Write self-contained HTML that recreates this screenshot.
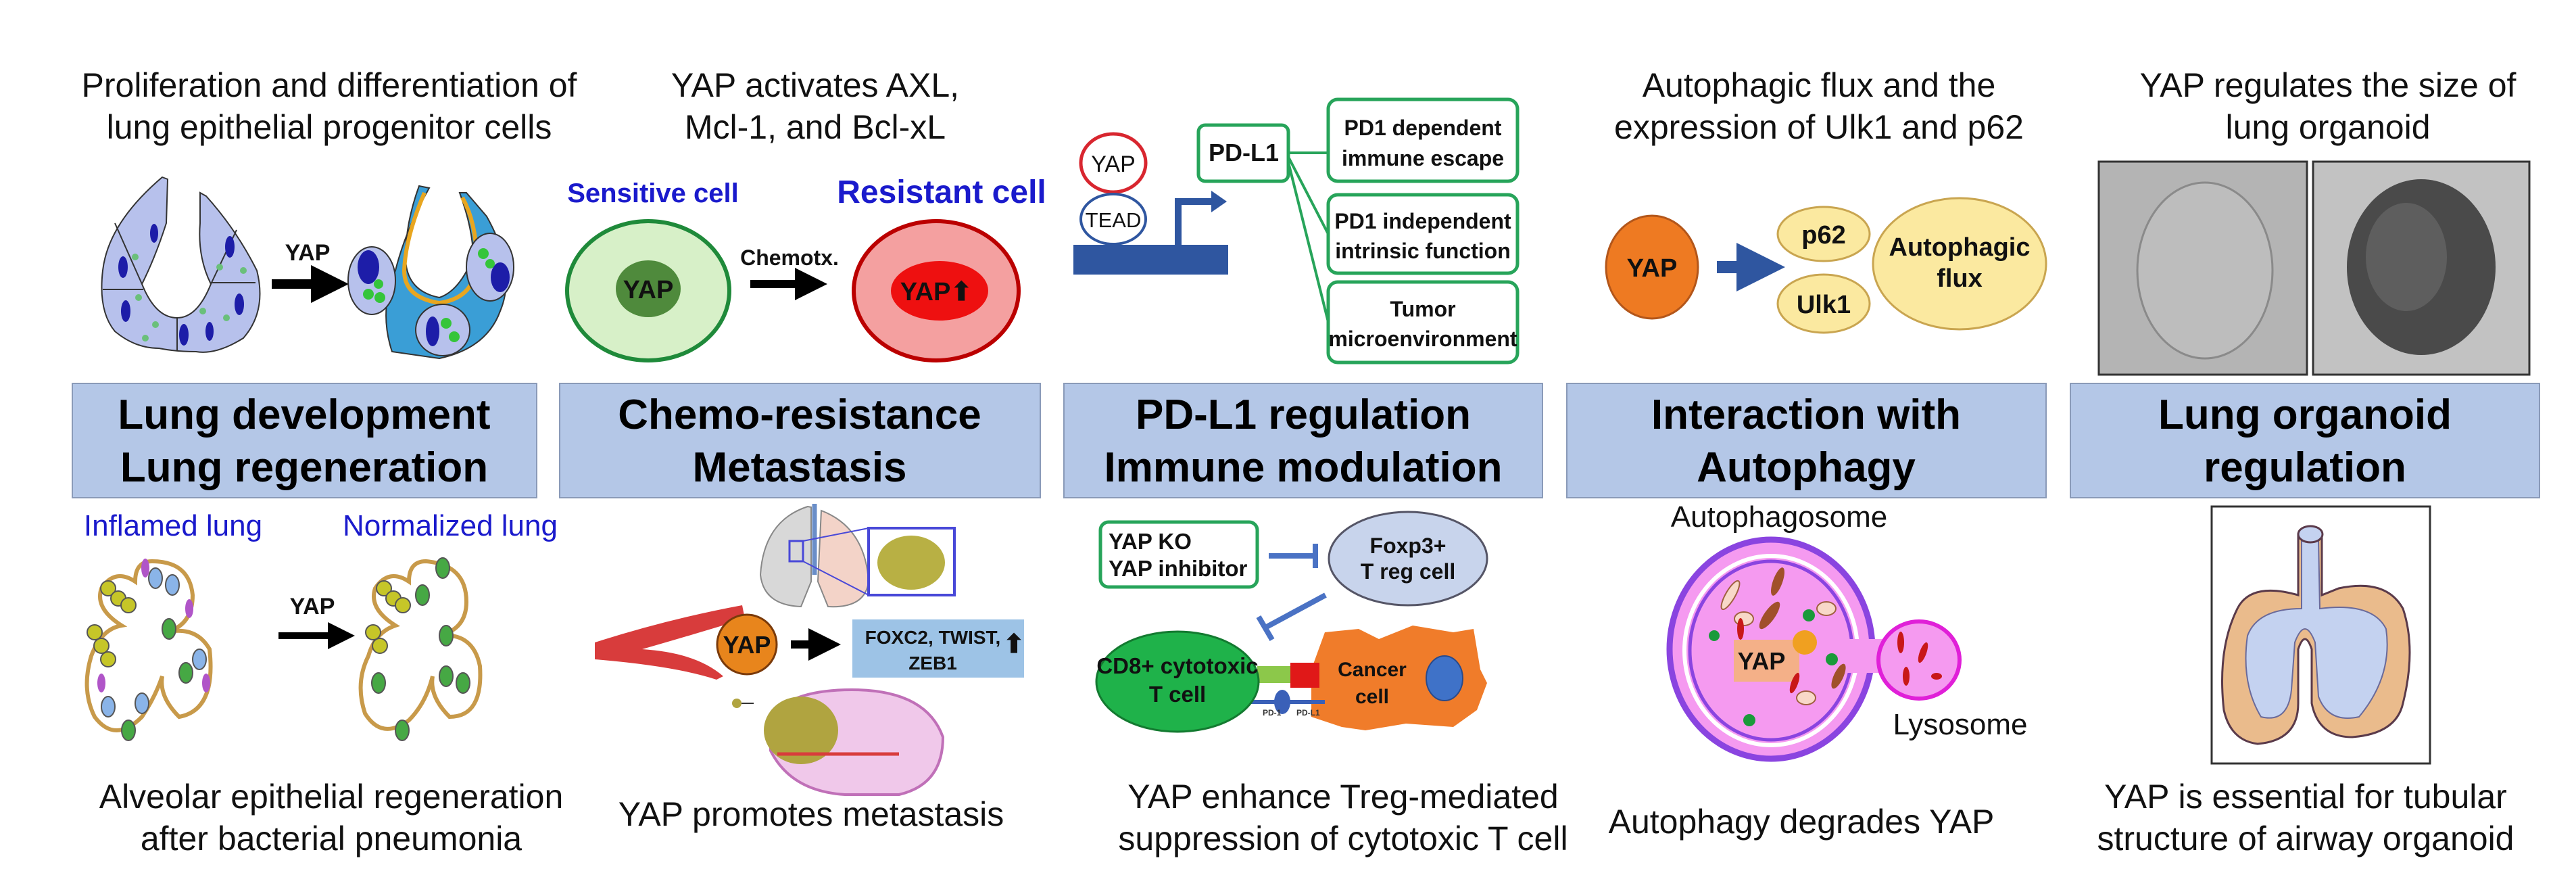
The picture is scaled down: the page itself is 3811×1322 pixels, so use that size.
<!DOCTYPE html>
<html><head><meta charset="utf-8"><style>
html,body{margin:0;padding:0;background:#fff}
svg{display:block}
text{font-family:"Liberation Sans",Arial,sans-serif}
</style></head><body>
<svg width="3811" height="1322" viewBox="0 0 3811 1322" xmlns="http://www.w3.org/2000/svg">
<defs>
<marker id="ah" markerWidth="4" markerHeight="4" refX="2" refY="2" orient="auto"><path d="M0,0 L4,2 L0,4 z" fill="#000"/></marker>
<marker id="ahb" markerWidth="4" markerHeight="4" refX="2" refY="2" orient="auto"><path d="M0,0 L4,2 L0,4 z" fill="#2f56a0"/></marker>
</defs>

<!-- Top texts -->
<g font-size="50" fill="#111" text-anchor="middle">
<text x="487" y="143">Proliferation and differentiation of</text>
<text x="487" y="205">lung epithelial progenitor cells</text>
<text x="1206" y="143">YAP activates AXL,</text>
<text x="1206" y="205">Mcl-1, and Bcl-xL</text>
<text x="2691" y="143">Autophagic flux and the</text>
<text x="2691" y="205">expression of Ulk1 and p62</text>
<text x="3444" y="143">YAP regulates the size of</text>
<text x="3444" y="205">lung organoid</text>
</g>

<!-- Panel 1 top: lung bud -->
<g stroke="#333" stroke-width="2">
<path d="M240,262 L248,265 L246,330 Q230,380 210,420 Q230,470 262,470 Q292,470 312,420 Q292,380 296,330 L296,285 L305,290 Q350,340 380,400 Q395,460 360,500 Q320,525 290,520 Q260,520 235,515 Q200,515 170,490 Q145,460 152,400 Q160,330 240,262 Z" fill="#b7c1ec"/>
<path d="M152,428 L212,428 M312,418 L378,418 M262,470 L262,518 M210,420 L170,330 M312,420 L350,340" fill="none"/>
</g>
<g fill="#1d1da8"><ellipse cx="182" cy="395" rx="7" ry="16"/><ellipse cx="186" cy="460" rx="7" ry="16"/><ellipse cx="272" cy="495" rx="7" ry="16"/><ellipse cx="340" cy="365" rx="7" ry="16"/><ellipse cx="354" cy="450" rx="7" ry="16"/><ellipse cx="228" cy="345" rx="6" ry="14"/><ellipse cx="310" cy="490" rx="6" ry="14"/></g>
<g fill="#6ac07a"><circle cx="200" cy="380" r="5"/><circle cx="205" cy="440" r="5"/><circle cx="230" cy="480" r="5"/><circle cx="325" cy="395" r="5"/><circle cx="335" cy="470" r="5"/><circle cx="300" cy="460" r="5"/><circle cx="215" cy="500" r="5"/><circle cx="360" cy="400" r="5"/></g>
<text x="455" y="385" font-size="34" font-weight="bold" text-anchor="middle" fill="#111">YAP</text>
<line x1="402" y1="420" x2="488" y2="420" stroke="#000" stroke-width="14" marker-end="url(#ah)"/>
<g stroke="#333" stroke-width="2">
<path d="M620,275 L635,278 Q600,340 585,400 Q560,460 580,520 L650,530 Q720,515 740,460 Q765,400 720,320 L690,285 L680,285 Q700,340 700,380 Q680,430 650,440 Q600,430 600,380 Q600,330 620,275 Z" fill="#3a9ed6"/>
<path d="M628,285 Q600,350 598,400 Q598,440 650,448 Q705,440 705,385 Q705,330 684,292" fill="none" stroke="#e8a620" stroke-width="6"/>
<ellipse cx="550" cy="415" rx="35" ry="50" fill="#b7c1ec"/>
<ellipse cx="725" cy="395" rx="35" ry="50" fill="#b7c1ec"/>
<ellipse cx="655" cy="488" rx="40" ry="38" fill="#b7c1ec"/>
</g>
<g fill="#1d1da8"><ellipse cx="545" cy="395" rx="16" ry="25"/><ellipse cx="740" cy="410" rx="14" ry="22"/><ellipse cx="640" cy="490" rx="10" ry="22"/></g>
<g fill="#35c53a"><circle cx="545" cy="435" r="8"/><circle cx="562" cy="440" r="8"/><circle cx="560" cy="420" r="7"/><circle cx="715" cy="375" r="8"/><circle cx="725" cy="390" r="7"/><circle cx="660" cy="478" r="8"/><circle cx="672" cy="498" r="8"/></g>

<!-- Panel 2 top: cells -->
<text x="966" y="299" font-size="40" font-weight="bold" fill="#1a1acc" text-anchor="middle">Sensitive cell</text>
<text x="1393" y="300" font-size="48" font-weight="bold" fill="#1a1acc" text-anchor="middle">Resistant cell</text>
<ellipse cx="959" cy="430" rx="120" ry="103" fill="#d7f0c8" stroke="#1f8a3a" stroke-width="6"/>
<ellipse cx="959" cy="427" rx="48" ry="42" fill="#4f8a3c"/>
<text x="959" y="441" font-size="38" font-weight="bold" text-anchor="middle" fill="#111">YAP</text>
<text x="1168" y="392" font-size="32" font-weight="bold" text-anchor="middle" fill="#111">Chemotx.</text>
<line x1="1110" y1="420" x2="1200" y2="420" stroke="#000" stroke-width="12" marker-end="url(#ah)"/>
<ellipse cx="1385" cy="430" rx="122" ry="103" fill="#f4a0a0" stroke="#b00" stroke-width="6"/>
<ellipse cx="1390" cy="430" rx="72" ry="44" fill="#ee1010"/>
<text x="1385" y="444" font-size="38" font-weight="bold" text-anchor="middle" fill="#111">YAP⬆</text>

<!-- Panel 3 top -->
<rect x="1588" y="362" width="229" height="44" fill="#2f56a0"/>
<path d="M1743,362 L1743,298 L1795,298" fill="none" stroke="#2f56a0" stroke-width="10"/>
<path d="M1792,282 L1815,298 L1792,314 Z" fill="#2f56a0"/>
<ellipse cx="1647" cy="241" rx="48" ry="43" fill="#fff" stroke="#d8262f" stroke-width="5"/>
<text x="1647" y="254" font-size="34" text-anchor="middle" fill="#111">YAP</text>
<ellipse cx="1647" cy="324" rx="48" ry="37" fill="#fff" stroke="#2f56a0" stroke-width="4"/>
<text x="1647" y="336" font-size="31" text-anchor="middle" fill="#111">TEAD</text>
<g fill="#fff" stroke="#27a45a" stroke-width="5">
<rect x="1773" y="185" width="133" height="83" rx="10"/>
<rect x="1965" y="147" width="280" height="121" rx="14"/>
<rect x="1965" y="288" width="280" height="116" rx="14"/>
<rect x="1965" y="417" width="280" height="119" rx="14"/>
</g>
<g stroke="#27a45a" stroke-width="4" fill="none"><line x1="1906" y1="226" x2="1965" y2="226"/><line x1="1906" y1="232" x2="1965" y2="346"/><line x1="1906" y1="240" x2="1965" y2="476"/></g>
<g font-size="32" font-weight="bold" text-anchor="middle" fill="#111">
<text x="1840" y="238" font-size="36">PD-L1</text>
<text x="2105" y="200">PD1 dependent</text><text x="2105" y="245">immune escape</text>
<text x="2105" y="338">PD1 independent</text><text x="2105" y="382">intrinsic function</text>
<text x="2105" y="468">Tumor</text><text x="2105" y="512">microenvironment</text>
</g>

<!-- Panel 4 top -->
<ellipse cx="2444" cy="395" rx="68" ry="76" fill="#ee7a22" stroke="#b3561a" stroke-width="3"/>
<text x="2444" y="409" font-size="38" font-weight="bold" text-anchor="middle" fill="#111">YAP</text>
<line x1="2540" y1="395" x2="2605" y2="395" stroke="#2f56a0" stroke-width="18" marker-end="url(#ahb)"/>
<ellipse cx="2698" cy="346" rx="68" ry="40" fill="#fbe9a0" stroke="#c9a550" stroke-width="3"/>
<text x="2698" y="360" font-size="38" font-weight="bold" text-anchor="middle" fill="#111">p62</text>
<ellipse cx="2698" cy="449" rx="68" ry="43" fill="#fbe9a0" stroke="#c9a550" stroke-width="3"/>
<text x="2698" y="463" font-size="38" font-weight="bold" text-anchor="middle" fill="#111">Ulk1</text>
<ellipse cx="2899" cy="390" rx="128" ry="97" fill="#fbe9a0" stroke="#c9a550" stroke-width="3"/>
<text x="2899" y="378" font-size="38" font-weight="bold" text-anchor="middle" fill="#111">Autophagic</text>
<text x="2899" y="424" font-size="38" font-weight="bold" text-anchor="middle" fill="#111">flux</text>

<!-- Panel 5 top images -->
<rect x="3105" y="239" width="308" height="315" fill="#b4b4b4" stroke="#333" stroke-width="3"/>
<ellipse cx="3262" cy="400" rx="100" ry="130" fill="#bdbdbd" stroke="#8a8a8a" stroke-width="3"/>
<rect x="3422" y="239" width="320" height="315" fill="#c2c2c2" stroke="#333" stroke-width="3"/>
<ellipse cx="3582" cy="395" rx="110" ry="130" fill="#4a4a4a"/>
<ellipse cx="3560" cy="380" rx="60" ry="80" fill="#5e5e5e"/>

<!-- Header boxes -->
<g fill="#b4c7e7" stroke="#8a9ab8" stroke-width="2">
<rect x="107" y="567" width="687" height="169"/>
<rect x="828" y="567" width="711" height="169"/>
<rect x="1574" y="567" width="708" height="169"/>
<rect x="2318" y="567" width="709" height="169"/>
<rect x="3063" y="567" width="694" height="169"/>
</g>
<g font-size="62" font-weight="bold" fill="#000" text-anchor="middle">
<text x="450" y="634">Lung development</text><text x="450" y="712">Lung regeneration</text>
<text x="1183" y="634">Chemo-resistance</text><text x="1183" y="712">Metastasis</text>
<text x="1928" y="634">PD-L1 regulation</text><text x="1928" y="712">Immune modulation</text>
<text x="2672" y="634">Interaction with</text><text x="2672" y="712">Autophagy</text>
<text x="3410" y="634">Lung organoid</text><text x="3410" y="712">regulation</text>
</g>

<!-- Panel 1 bottom -->
<text x="256" y="792" font-size="44" fill="#1a1acc" text-anchor="middle">Inflamed lung</text>
<text x="666" y="792" font-size="44" fill="#1a1acc" text-anchor="middle">Normalized lung</text>
<g fill="none" stroke="#c89a4a" stroke-width="6">
<path d="M225,830 Q280,830 285,880 Q285,925 245,935 Q290,925 310,960 Q320,1050 265,1060 Q235,1030 240,1000 Q230,1030 210,1060 Q170,1100 140,1060 Q120,1020 135,970 Q150,930 180,925 Q140,900 150,870 Q170,840 200,860 Q200,830 225,830 Z"/>
<path d="M630,830 Q690,835 690,890 Q690,930 650,940 Q700,935 710,985 Q715,1060 665,1060 Q635,1030 640,1000 Q630,1040 605,1065 Q565,1095 540,1055 Q525,1010 545,970 Q555,935 585,925 Q545,900 555,870 Q575,840 605,860 Q605,830 630,830 Z"/>
</g>
<g fill="#c6c628" stroke="#555" stroke-width="2"><circle cx="160" cy="870" r="11"/><circle cx="175" cy="885" r="11"/><circle cx="190" cy="895" r="11"/><circle cx="140" cy="935" r="11"/><circle cx="150" cy="955" r="11"/><circle cx="160" cy="975" r="11"/><circle cx="568" cy="870" r="11"/><circle cx="582" cy="885" r="11"/><circle cx="596" cy="895" r="11"/><circle cx="552" cy="935" r="11"/><circle cx="562" cy="955" r="11"/></g>
<g fill="#8ab4e8" stroke="#555" stroke-width="2"><ellipse cx="230" cy="855" rx="10" ry="15"/><ellipse cx="255" cy="865" rx="10" ry="15"/><ellipse cx="295" cy="975" rx="10" ry="15"/><ellipse cx="160" cy="1045" rx="10" ry="15"/><ellipse cx="210" cy="1040" rx="10" ry="15"/></g>
<g fill="#46a844" stroke="#555" stroke-width="2"><ellipse cx="250" cy="930" rx="10" ry="15"/><ellipse cx="275" cy="995" rx="10" ry="15"/><ellipse cx="190" cy="1080" rx="10" ry="15"/><ellipse cx="655" cy="840" rx="10" ry="15"/><ellipse cx="625" cy="880" rx="10" ry="15"/><ellipse cx="660" cy="940" rx="10" ry="15"/><ellipse cx="685" cy="1010" rx="10" ry="15"/><ellipse cx="660" cy="1000" rx="10" ry="15"/><ellipse cx="560" cy="1010" rx="10" ry="15"/><ellipse cx="595" cy="1080" rx="10" ry="15"/></g>
<g fill="#b055c8"><ellipse cx="215" cy="840" rx="6" ry="14"/><ellipse cx="305" cy="1010" rx="6" ry="14"/><ellipse cx="150" cy="1010" rx="6" ry="14"/><ellipse cx="280" cy="900" rx="6" ry="14"/></g>
<text x="462" y="908" font-size="34" font-weight="bold" text-anchor="middle" fill="#111">YAP</text>
<line x1="412" y1="940" x2="505" y2="940" stroke="#000" stroke-width="10" marker-end="url(#ah)"/>

<!-- Panel 2 bottom -->
<path d="M1195,749 Q1130,770 1125,850 Q1130,895 1185,897 L1200,860 L1200,750 Z" fill="#d8d8d8" stroke="#888" stroke-width="2"/>
<path d="M1215,755 Q1280,780 1285,860 Q1280,900 1225,897 L1210,860 Z" fill="#f3d3c8" stroke="#888" stroke-width="2"/>
<line x1="1205" y1="745" x2="1205" y2="850" stroke="#6a8ec8" stroke-width="7"/>
<rect x="1285" y="781" width="127" height="99" fill="#fff" stroke="#4848d8" stroke-width="4"/>
<ellipse cx="1348" cy="832" rx="50" ry="40" fill="#b8b044"/>
<rect x="1168" y="800" width="20" height="30" fill="none" stroke="#4848d8" stroke-width="3"/>
<line x1="1188" y1="800" x2="1285" y2="781" stroke="#4848d8" stroke-width="2"/><line x1="1188" y1="830" x2="1285" y2="880" stroke="#4848d8" stroke-width="2"/>
<path d="M880,950 Q990,915 1098,895 L1102,915 Q1020,940 950,960 Q1030,965 1070,1000 L1060,1005 Q1000,985 880,975 Z" fill="#d83c3c"/>
<ellipse cx="1105" cy="953" rx="44" ry="44" fill="#e8851c" stroke="#7a3a0a" stroke-width="3"/>
<text x="1105" y="966" font-size="36" font-weight="bold" text-anchor="middle" fill="#111">YAP</text>
<line x1="1170" y1="953" x2="1220" y2="953" stroke="#000" stroke-width="12" marker-end="url(#ah)"/>
<rect x="1261" y="916" width="254" height="86" fill="#9dc3e6"/>
<text x="1380" y="952" font-size="28" font-weight="bold" text-anchor="middle" fill="#111">FOXC2, TWIST,</text>
<text x="1380" y="990" font-size="28" font-weight="bold" text-anchor="middle" fill="#111">ZEB1</text>
<text x="1500" y="965" font-size="38" font-weight="bold" text-anchor="middle" fill="#111">⬆</text>
<path d="M1140,1060 Q1170,1020 1260,1020 Q1370,1020 1395,1090 Q1395,1160 1330,1175 L1250,1175 Q1170,1170 1140,1110 Z" fill="#f0c8ea" stroke="#c070b8" stroke-width="4"/>
<ellipse cx="1185" cy="1080" rx="55" ry="50" fill="#b0a440"/>
<line x1="1150" y1="1115" x2="1330" y2="1115" stroke="#d83c3c" stroke-width="5"/>
<circle cx="1090" cy="1040" r="7" fill="#b0a440"/><line x1="1097" y1="1040" x2="1115" y2="1040" stroke="#333" stroke-width="2"/>

<!-- Panel 3 bottom -->
<rect x="1628" y="772" width="232" height="96" rx="12" fill="#fff" stroke="#27a45a" stroke-width="5"/>
<text x="1640" y="812" font-size="33" font-weight="bold" fill="#111">YAP KO</text>
<text x="1640" y="852" font-size="33" font-weight="bold" fill="#111">YAP inhibitor</text>
<line x1="1877" y1="822" x2="1944" y2="822" stroke="#4a72c4" stroke-width="8"/>
<line x1="1946" y1="804" x2="1946" y2="840" stroke="#4a72c4" stroke-width="8"/>
<ellipse cx="2083" cy="826" rx="117" ry="69" fill="#c8d4ec" stroke="#556" stroke-width="3"/>
<text x="2083" y="818" font-size="32" font-weight="bold" text-anchor="middle" fill="#111">Foxp3+</text>
<text x="2083" y="856" font-size="32" font-weight="bold" text-anchor="middle" fill="#111">T reg cell</text>
<line x1="1961" y1="880" x2="1872" y2="928" stroke="#4a72c4" stroke-width="8"/>
<line x1="1862" y1="912" x2="1882" y2="946" stroke="#4a72c4" stroke-width="8"/>
<path d="M1960,935 L2010,930 L2040,945 L2090,925 L2150,935 L2180,930 L2190,990 L2200,1010 L2185,1050 L2150,1075 L2080,1070 L2020,1080 L1985,1075 L1940,1060 L1940,990 Z" fill="#f07c2a"/>
<ellipse cx="2137" cy="1003" rx="27" ry="33" fill="#3f72c8" stroke="#2a4a8a" stroke-width="2"/>
<text x="2030" y="1000" font-size="30" font-weight="bold" text-anchor="middle" fill="#111">Cancer</text>
<text x="2030" y="1040" font-size="30" font-weight="bold" text-anchor="middle" fill="#111">cell</text>
<rect x="1860" y="985" width="50" height="25" fill="#8cc84a"/>
<rect x="1909" y="980" width="43" height="37" fill="#e01818"/>
<line x1="1845" y1="1038" x2="1960" y2="1038" stroke="#3a60b8" stroke-width="6"/>
<ellipse cx="1897" cy="1038" rx="12" ry="18" fill="#3a60b8"/>
<text x="1868" y="1058" font-size="12" font-weight="bold" fill="#333">PD-1</text>
<text x="1918" y="1058" font-size="12" font-weight="bold" fill="#333">PD-L1</text>
<ellipse cx="1742" cy="1008" rx="120" ry="74" fill="#1fb24a" stroke="#137a30" stroke-width="3"/>
<text x="1742" y="996" font-size="33" font-weight="bold" text-anchor="middle" fill="#111">CD8+ cytotoxic</text>
<text x="1742" y="1038" font-size="33" font-weight="bold" text-anchor="middle" fill="#111">T cell</text>

<!-- Panel 4 bottom -->
<text x="2632" y="779" font-size="44" text-anchor="middle" fill="#111">Autophagosome</text>
<ellipse cx="2620" cy="960" rx="150" ry="162" fill="#f59af0" stroke="#8a44e0" stroke-width="9"/>
<ellipse cx="2620" cy="962" rx="128" ry="140" fill="none" stroke="#fff" stroke-width="6"/>
<ellipse cx="2620" cy="962" rx="120" ry="132" fill="none" stroke="#8a44e0" stroke-width="5"/>
<rect x="2730" y="945" width="60" height="50" fill="#f59af0"/>
<ellipse cx="2839" cy="976" rx="60" ry="57" fill="#f59af0" stroke="#e020d8" stroke-width="6"/>
<rect x="2565" y="946" width="97" height="62" fill="#f4b088"/>
<text x="2606" y="990" font-size="36" font-weight="bold" text-anchor="middle" fill="#111">YAP</text>
<circle cx="2670" cy="950" r="18" fill="#f0a020"/>
<g fill="#a0502a"><ellipse cx="2630" cy="860" rx="7" ry="22" transform="rotate(20 2630 860)"/><ellipse cx="2618" cy="910" rx="8" ry="24" transform="rotate(35 2618 910)"/><ellipse cx="2720" cy="1000" rx="7" ry="20" transform="rotate(25 2720 1000)"/></g>
<g fill="#f8d8c8" stroke="#a06040" stroke-width="2"><ellipse cx="2560" cy="880" rx="7" ry="24" transform="rotate(30 2560 880)"/><ellipse cx="2580" cy="915" rx="14" ry="10"/><ellipse cx="2702" cy="900" rx="14" ry="10"/><ellipse cx="2672" cy="1032" rx="14" ry="10"/></g>
<g fill="#1a9a3a"><circle cx="2676" cy="910" r="9"/><circle cx="2536" cy="940" r="8"/><circle cx="2710" cy="975" r="9"/><circle cx="2588" cy="1065" r="9"/></g>
<g fill="#c81818"><ellipse cx="2812" cy="950" rx="5" ry="16"/><ellipse cx="2845" cy="965" rx="5" ry="16" transform="rotate(20 2845 965)"/><ellipse cx="2820" cy="1000" rx="5" ry="14"/><ellipse cx="2865" cy="1000" rx="8" ry="5"/><ellipse cx="2655" cy="1010" rx="5" ry="16" transform="rotate(20 2655 1010)"/><ellipse cx="2575" cy="930" rx="5" ry="16"/></g>
<text x="2900" y="1086" font-size="44" text-anchor="middle" fill="#111">Lysosome</text>

<!-- Panel 5 bottom -->
<rect x="3272" y="749" width="323" height="380" fill="#fff" stroke="#333" stroke-width="3"/>
<path d="M3400,790 L3400,880 Q3330,860 3310,900 Q3280,960 3290,1050 Q3300,1095 3340,1100 Q3400,1095 3400,1040 L3400,960 Q3410,930 3420,960 L3420,1040 Q3430,1090 3480,1090 Q3545,1085 3555,1040 Q3575,960 3555,900 Q3530,855 3460,870 L3435,880 L3435,790 Z" fill="#eabb8c" stroke="#5a3a4a" stroke-width="3"/>
<path d="M3405,800 L3405,900 Q3340,900 3325,940 Q3315,1010 3345,1060 Q3385,1070 3390,1020 L3395,950 Q3410,910 3425,950 L3430,1030 Q3445,1070 3490,1060 Q3540,1000 3530,930 Q3510,890 3432,900 L3430,800 Z" fill="#c4d2f0" stroke="#6a6a9a" stroke-width="2"/>
<ellipse cx="3418" cy="790" rx="18" ry="12" fill="#c4d2f0" stroke="#5a3a4a" stroke-width="3"/>

<!-- Bottom texts -->
<g font-size="50" fill="#111" text-anchor="middle">
<text x="490" y="1195">Alveolar epithelial regeneration</text>
<text x="490" y="1257">after bacterial pneumonia</text>
<text x="1200" y="1221">YAP promotes metastasis</text>
<text x="1987" y="1195">YAP enhance Treg-mediated</text>
<text x="1987" y="1257">suppression of cytotoxic T cell</text>
<text x="2665" y="1232">Autophagy degrades YAP</text>
<text x="3411" y="1195">YAP is essential for tubular</text>
<text x="3411" y="1257">structure of airway organoid</text>
</g>
</svg>
</body></html>
